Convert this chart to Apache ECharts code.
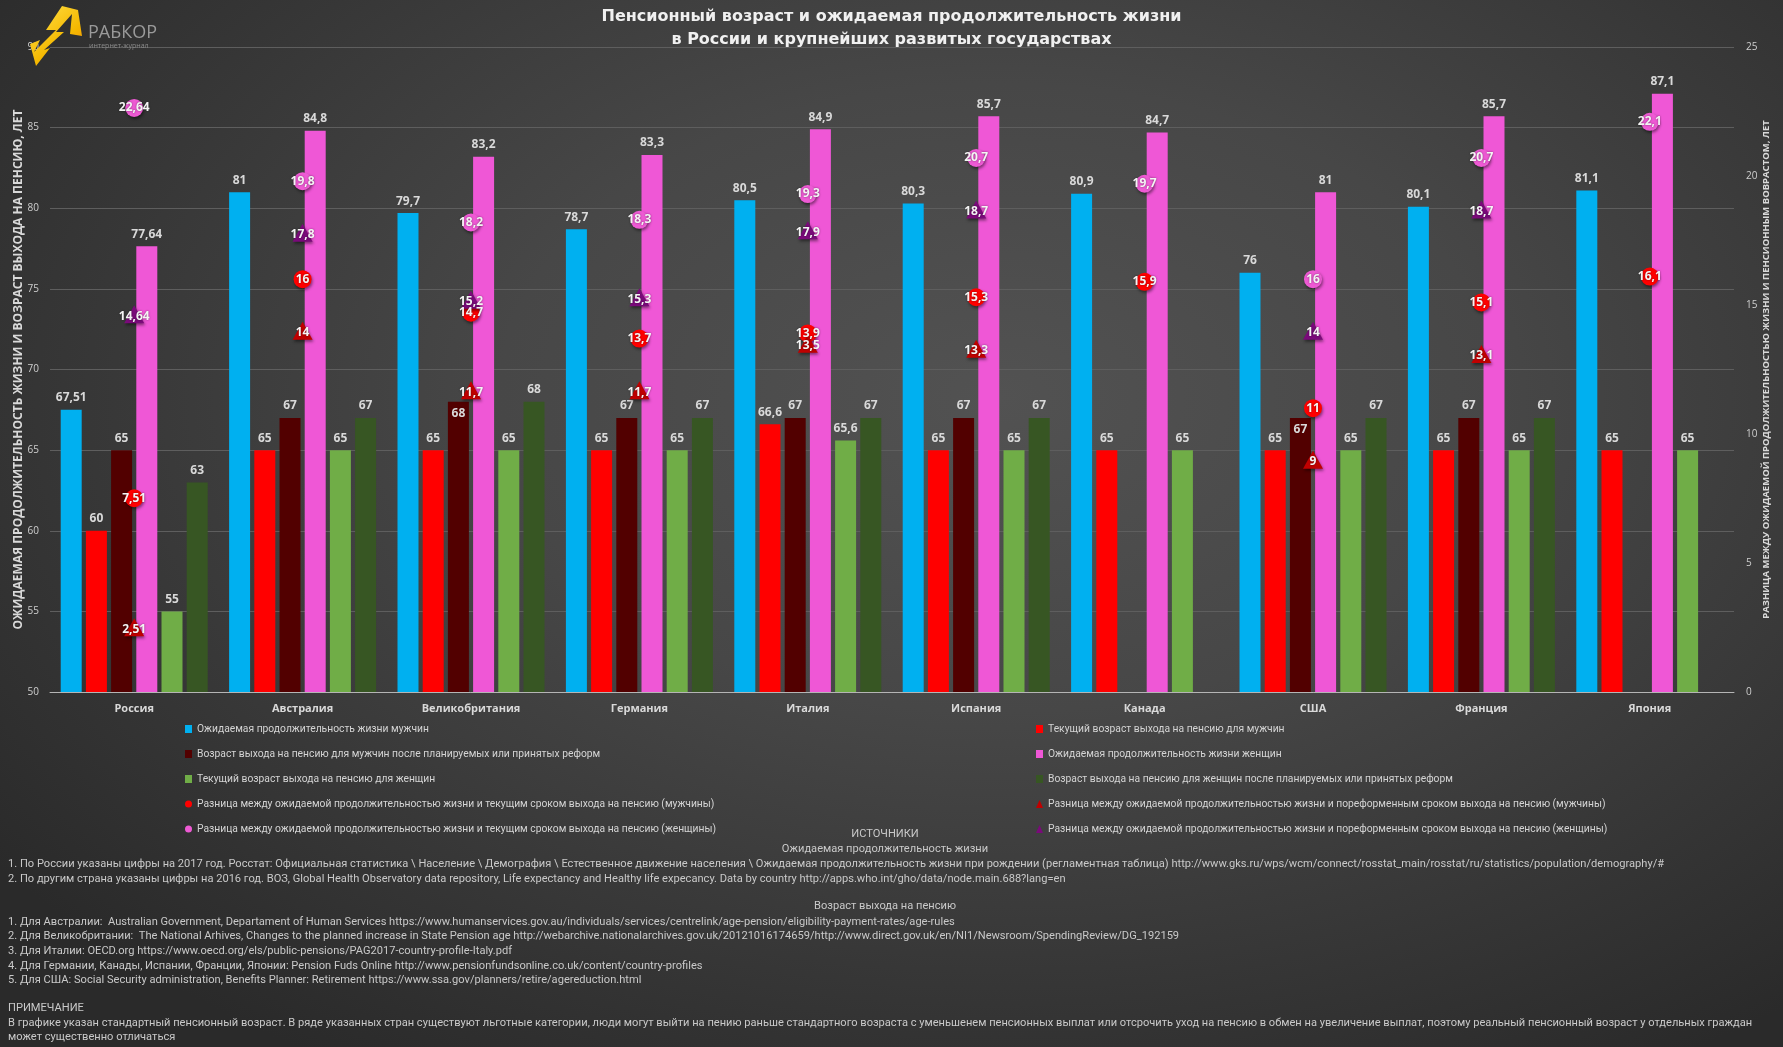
<!DOCTYPE html>
<html>
<head>
<meta charset="utf-8">
<script src="https://cdn.jsdelivr.net/npm/echarts@6/dist/echarts.min.js"></script>
<style>
html,body{margin:0;padding:0;}
#chart{width:1783px;height:1047px;background:radial-gradient(ellipse 70% 75% at 56% 38%, #525252 0%, #474747 40%, #363636 75%, #2a2a2a 100%);}
</style>
</head>
<body>
<div id="chart"></div>
<script>
const categories = ['Россия','Австралия','Великобритания','Германия','Италия','Испания','Канада','США','Франция','Япония'];
const menLife = [67.51,81,79.7,78.7,80.5,80.3,80.9,76,80.1,81.1];
const menRetireNow = [60,65,65,65,66.6,65,65,65,65,65];
const menRetireReform = [65,67,68,67,67,67,null,67,67,null];
const womenLife = [77.64,84.8,83.2,83.3,84.9,85.7,84.7,81,85.7,87.1];
const womenRetireNow = [55,65,65,65,65.6,65,65,65,65,65];
const womenRetireReform = [63,67,68,67,67,67,null,67,67,null];
const gapMenNow = [7.51,16,14.7,13.7,13.9,15.3,15.9,11,15.1,16.1];
const gapMenReform = [2.51,14,11.7,11.7,13.5,13.3,null,9,13.1,null];
const gapWomenNow = [22.64,19.8,18.2,18.3,19.3,20.7,19.7,16,20.7,22.1];
const gapWomenReform = [14.64,17.8,15.2,15.3,17.9,18.7,null,14,18.7,null];

const leftTicks = {min:50, max:90, interval:5};
const rightTicks = {min:0, max:25, interval:5};

const titleLines = ['Пенсионный возраст и ожидаемая продолжительность жизни','в России и крупнейших развитых государствах'];
const leftAxisName = 'ОЖИДАЕМАЯ ПРОДОЛЖИТЕЛЬНОСТЬ ЖИЗНИ И ВОЗРАСТ ВЫХОДА НА ПЕНСИЮ, ЛЕТ';
const rightAxisName = 'РАЗНИЦА МЕЖДУ ОЖИДАЕМОЙ ПРОДОЛЖИТЕЛЬНОСТЬЮ ЖИЗНИ И ПЕНСИОННЫМ ВОВРАСТОМ, ЛЕТ';

const seriesNames = [
 'Ожидаемая продолжительность жизни мужчин',
 'Текущий возраст выхода на пенсию для мужчин',
 'Возраст выхода на пенсию для мужчин после планируемых или принятых реформ',
 'Ожидаемая продолжительность жизни женщин',
 'Текущий возраст выхода на пенсию для женщин',
 'Возраст выхода на пенсию для женщин после планируемых или принятых реформ',
 'Разница между ожидаемой продолжительностью жизни и текущим сроком выхода на пенсию (мужчины)',
 'Разница между ожидаемой продолжительностью жизни и пореформенным сроком выхода на пенсию (мужчины)',
 'Разница между ожидаемой продолжительностью жизни и текущим сроком выхода на пенсию (женщины)',
 'Разница между ожидаемой продолжительностью жизни и пореформенным сроком выхода на пенсию (женщины)'
];

const sourcesHeading = 'ИСТОЧНИКИ';
const sourcesLifeHeading = 'Ожидаемая продолжительность жизни';
const sourcesLife = [
 '1. По России указаны цифры на 2017 год. Росстат: Официальная статистика \\ Население \\ Демография \\ Естественное движение населения \\ Ожидаемая продолжительность жизни при рождении (регламентная таблица) http://www.gks.ru/wps/wcm/connect/rosstat_main/rosstat/ru/statistics/population/demography/#',
 '2. По другим страна указаны цифры на 2016 год. ВОЗ, Global Health Observatory data repository, Life expectancy and Healthy life expecancy. Data by country http://apps.who.int/gho/data/node.main.688?lang=en'
];
const sourcesPensionHeading = 'Возраст выхода на пенсию';
const sourcesPension = [
 '1. Для Австралии:  Australian Government, Departament of Human Services https://www.humanservices.gov.au/individuals/services/centrelink/age-pension/eligibility-payment-rates/age-rules',
 '2. Для Великобритании:  The National Arhives, Changes to the planned increase in State Pension age http://webarchive.nationalarchives.gov.uk/20121016174659/http://www.direct.gov.uk/en/NI1/Newsroom/SpendingReview/DG_192159',
 '3. Для Италии: OECD.org https://www.oecd.org/els/public-pensions/PAG2017-country-profile-Italy.pdf',
 '4. Для Германии, Канады, Испании, Франции, Японии: Pension Fuds Online http://www.pensionfundsonline.co.uk/content/country-profiles',
 '5. Для США: Social Security administration, Benefits Planner: Retirement https://www.ssa.gov/planners/retire/agereduction.html'
];
const noteHeading = 'ПРИМЕЧАНИЕ';
const noteLines = [
 'В графике указан стандартный пенсионный возраст. В ряде указанных стран существуют льготные категории, люди могут выйти на пению раньше стандартного возраста с уменьшенем пенсионных выплат или отсрочить уход на пенсию в обмен на увеличение выплат, поэтому реальный пенсионный возраст у отдельных граждан',
 'может существенно отличаться'
];

const NARROW = 'Roboto, "Open Sans", sans-serif';
const fmt = v => String(v).replace('.', ',');

const barColors = ['#00b0f0','#ff0000','#520000','#ef57d6','#70ad47','#375623'];
const barData = [menLife, menRetireNow, menRetireReform, womenLife, womenRetireNow, womenRetireReform];
const markerColors = ['#ff0000','#c00000','#ee5ad4','#7a0a7a'];
const markerShapes = ['circle','triangle','circle','triangle'];
const markerData = [gapMenNow, gapMenReform, gapWomenNow, gapWomenReform];
// bars whose value label sits inside the top of the bar (overlapping markers otherwise)
const insideLabelIdx = {2: [2, 7]};

const series = [];
barData.forEach((d, i) => {
  const inside = insideLabelIdx[i] || [];
  series.push({
    name: seriesNames[i], type: 'bar', yAxisIndex: 0,
    data: d.map((v, k) => inside.indexOf(k) >= 0 ? {value: v, label: {position: 'insideTop', distance: 6}} : v),
    barWidth: 21, barGap: '20%',
    itemStyle: {color: barColors[i]},
    label: {show: true, position: 'top', distance: 6, color: '#d9d9d9',
      fontFamily: 'Open Sans', fontWeight: 'bold', fontSize: 12,
      formatter: p => fmt(p.value)}
  });
});
markerData.forEach((d, i) => {
  series.push({
    name: seriesNames[6 + i], type: 'line', yAxisIndex: 1,
    data: d, symbol: markerShapes[i], symbolSize: markerShapes[i]==='circle' ? 18 : [20,18],
    lineStyle: {width: 0, opacity: 0}, z: 5,
    itemStyle: {color: markerColors[i], shadowColor: 'rgba(0,0,0,0.45)', shadowBlur: 3, shadowOffsetX: 1, shadowOffsetY: 2},
    label: {show: true, position: 'inside', color: '#f4f4f4', fontFamily: 'Open Sans',
      fontWeight: 'bold', fontSize: 12, textShadowColor: 'rgba(0,0,0,0.5)', textShadowBlur: 2,
      offset: markerShapes[i]==='triangle' ? [0,2] : [0,0],
      formatter: p => fmt(p.value)}
  });
});

const legendIcon = i => i < 6 ? 'rect' : markerShapes[i - 6];
const legendText = {color: '#d4d4d4', fontFamily: NARROW, fontSize: 10.3, lineHeight: 14};
const leftLegendIdx = [0,2,4,6,8];
const rightLegendIdx = [1,3,5,7,9];

const graphicTexts = [];
function addText(text, x, y, align, bold) {
  graphicTexts.push({type: 'text', x: x, y: y, silent: true,
    style: {text: text, fill: '#c9c9c9', font: (bold ? 'bold ' : '') + '11.1px ' + NARROW,
      textAlign: align, textVerticalAlign: 'middle'}});
}
addText(sourcesHeading, 885, 834, 'center', false);
addText(sourcesLifeHeading, 885, 849, 'center', false);
sourcesLife.forEach((t, i) => addText(t, 8, 864 + i * 15, 'left', false));
addText(sourcesPensionHeading, 885, 906, 'center', false);
sourcesPension.forEach((t, i) => addText(t, 8, 922 + i * 14.6, 'left', false));
addText(noteHeading, 8, 1008, 'left', false);
noteLines.forEach((t, i) => addText(t, 8, 1023 + i * 14.5, 'left', false));

// logo
graphicTexts.push({type: 'polygon', silent: true, z: 10,
  shape: {points: [[62,6],[46,30],[56,30],[34,52],[40,40],[30,44],[36,66],[50,48],[44,50],[64,32],[56,32],[72,14],[70,34],[82,36],[78,10]]},
  style: {fill: new echarts.graphic.LinearGradient(0,0,1,1,[{offset:0,color:'#ffe34d'},{offset:0.6,color:'#f5b800'},{offset:1,color:'#f07a10'}])}});
graphicTexts.push({type: 'text', x: 88, y: 33, z: 10, silent: true,
  style: {text: 'РАБКОР', fill: '#9a9a9a', font: '18px "Open Sans", sans-serif', textVerticalAlign: 'middle'}});
graphicTexts.push({type: 'text', x: 89, y: 46, z: 10, silent: true,
  style: {text: 'интернет-журнал', fill: '#8a8a8a', font: '7px "Open Sans", sans-serif', textVerticalAlign: 'middle'}});

const chart = echarts.init(document.getElementById('chart'), null, {renderer: 'canvas'});
chart.setOption({
  backgroundColor: 'transparent',
  animation: false,
  title: {text: titleLines.join('\n'), left: 'center', top: 0,
    textStyle: {color: '#f0f0f0', fontFamily: '"DejaVu Sans", sans-serif', fontWeight: 'bold', fontSize: 16, lineHeight: 23}},
  grid: {left: 50, right: 49, top: 47, bottom: 355, containLabel: false},
  legend: [
    {orient: 'vertical', left: 180, top: 717, itemWidth: 7, itemHeight: 8, itemGap: 11,
     data: leftLegendIdx.map(i => ({name: seriesNames[i], icon: legendIcon(i)})), textStyle: legendText, selectedMode: false},
    {orient: 'vertical', left: 1031, top: 717, itemWidth: 7, itemHeight: 8, itemGap: 11,
     data: rightLegendIdx.map(i => ({name: seriesNames[i], icon: legendIcon(i)})), textStyle: legendText, selectedMode: false}
  ],
  xAxis: {type: 'category', data: categories,
    axisLine: {lineStyle: {color: '#b5b5b5', width: 1}}, axisTick: {show: false},
    axisLabel: {color: '#d9d9d9', fontFamily: 'Open Sans', fontWeight: 'bold', fontSize: 11, margin: 11}},
  yAxis: [
    {type: 'value', min: leftTicks.min, max: leftTicks.max, interval: leftTicks.interval,
     name: leftAxisName, nameLocation: 'middle', nameGap: 25, nameRotate: 90, nameMoveOverlap: false,
     nameTextStyle: {color: '#d9d9d9', fontFamily: 'Open Sans', fontWeight: 'bold', fontSize: 12},
     axisLine: {show: false}, axisTick: {show: false},
     axisLabel: {color: '#cfcfcf', fontFamily: 'Open Sans', fontSize: 10, margin: 11},
     splitLine: {lineStyle: {color: '#5e5e5e', width: 1}}},
    {type: 'value', min: rightTicks.min, max: rightTicks.max, interval: rightTicks.interval,
     name: rightAxisName, nameLocation: 'middle', nameGap: 27, nameRotate: 90, nameMoveOverlap: false,
     nameTextStyle: {color: '#d9d9d9', fontFamily: 'Open Sans', fontWeight: 'bold', fontSize: 9.5},
     axisLine: {show: false}, axisTick: {show: false},
     axisLabel: {color: '#cfcfcf', fontFamily: 'Open Sans', fontSize: 10, margin: 12},
     splitLine: {show: false}}
  ],
  series: series,
  graphic: graphicTexts
});
</script>
</body>
</html>
